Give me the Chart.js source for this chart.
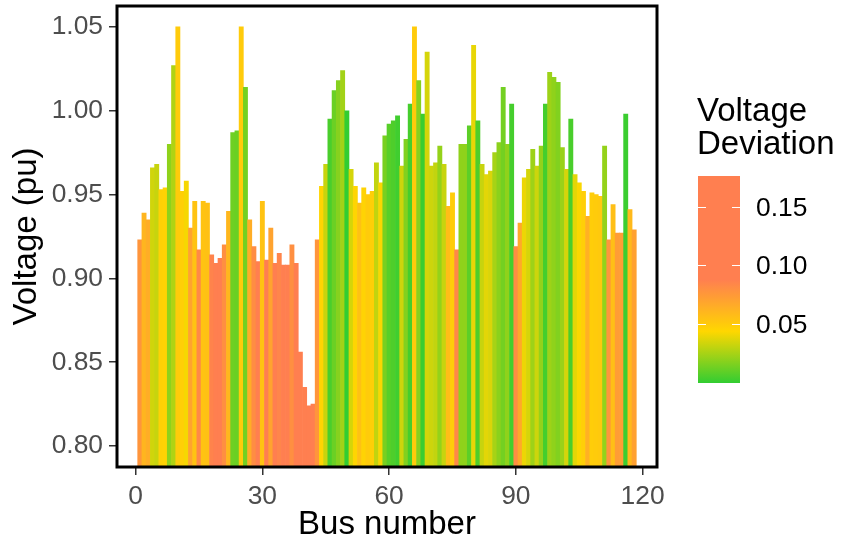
<!DOCTYPE html>
<html>
<head>
<meta charset="utf-8">
<script src="https://cdn.jsdelivr.net/npm/chart.js@4.4.1/dist/chart.umd.min.js"></script>
<style>
  html, body { margin: 0; padding: 0; background: #ffffff; }
  #wrap { width: 841px; height: 542px; }
</style>
</head>
<body>
<div id="wrap"><canvas id="chart" width="841" height="542"></canvas></div>
<script>
// Bus voltage magnitudes (pu) for buses 1..118
const voltage = [
  0.923, 0.939, 0.935, 0.966, 0.968, 0.953, 0.954, 0.980, 1.027, 1.050,
  0.952, 0.958, 0.930, 0.946, 0.917, 0.946, 0.945, 0.914, 0.909, 0.912,
  0.920, 0.940, 0.987, 0.988, 1.050, 1.014, 0.935, 0.919, 0.910, 0.946,
  0.911, 0.930, 0.909, 0.915, 0.908, 0.908, 0.920, 0.909, 0.856, 0.835,
  0.824, 0.825, 0.923, 0.955, 0.968, 0.995, 1.012, 1.018, 1.024, 1.000,
  0.965, 0.955, 0.945, 0.954, 0.950, 0.952, 0.969, 0.957, 0.985, 0.992,
  0.994, 0.997, 0.967, 0.983, 1.004, 1.050, 1.018, 0.998, 1.035, 0.967,
  0.969, 0.979, 0.968, 0.943, 0.951, 0.917, 0.980, 0.980, 0.991, 1.039,
  0.994, 0.968, 0.962, 0.964, 0.975, 0.981, 1.014, 0.980, 1.004, 0.919,
  0.933, 0.960, 0.965, 0.977, 0.967, 0.979, 1.004, 1.023, 1.020, 1.017,
  0.978, 0.965, 0.995, 0.962, 0.957, 0.952, 0.937, 0.951, 0.950, 0.949,
  0.979, 0.923, 0.944, 0.927, 0.927, 0.998, 0.941, 0.929
];
const busNumbers = voltage.map((_, i) => i + 1);
const deviation = voltage.map(v => Math.abs(1 - v));

const xTickValues = [0, 30, 60, 90, 120];
const yTickValues = [0.80, 0.85, 0.90, 0.95, 1.00, 1.05];
const legendTickValues = [0.05, 0.10, 0.15];

const FONT = '"Liberation Sans", Arial, Helvetica, sans-serif';

// green -> gold -> coral colour ramp for the deviation
const rampStops = [
  { d: 0.000, c: [50, 205, 50] },
  { d: 0.044, c: [255, 215, 0] },
  { d: 0.088, c: [255, 127, 80] }
];
function devColor(d) {
  if (d <= rampStops[0].d) return `rgb(${rampStops[0].c.join(',')})`;
  for (let i = 1; i < rampStops.length; i++) {
    const a = rampStops[i - 1], b = rampStops[i];
    if (d <= b.d) {
      const t = (d - a.d) / (b.d - a.d);
      const c = a.c.map((v, k) => Math.round(v + (b.c[k] - v) * t));
      return `rgb(${c.join(',')})`;
    }
  }
  return `rgb(${rampStops[rampStops.length - 1].c.join(',')})`;
}

const points = busNumbers.map((b, i) => ({ x: b, y: voltage[i] }));
const barColors = deviation.map(devColor);

function noScalePadding(s) {
  s.paddingTop = 0; s.paddingBottom = 0; s.paddingLeft = 0; s.paddingRight = 0;
}

// panel border, axis titles and colourbar legend
const decorations = {
  id: 'decorations',
  afterDatasetsDraw(chart) {
    const { ctx, chartArea: a } = chart;
    ctx.save();
    ctx.strokeStyle = '#000000';
    ctx.lineWidth = 3;
    ctx.strokeRect(a.left, a.top, a.right - a.left, a.bottom - a.top);
    ctx.restore();
  },
  afterDraw(chart) {
    const { ctx, chartArea: a } = chart;
    ctx.save();
    ctx.fillStyle = '#000000';
    ctx.font = `33px ${FONT}`;
    ctx.textAlign = 'center';
    ctx.textBaseline = 'alphabetic';
    ctx.fillText('Bus number', (a.left + a.right) / 2, 534);

    ctx.save();
    ctx.translate(36, (a.top + a.bottom) / 2);
    ctx.rotate(-Math.PI / 2);
    ctx.fillText('Voltage (pu)', 0, 0);
    ctx.restore();

    // legend title
    ctx.textAlign = 'left';
    ctx.fillText('Voltage', 697, 121);
    ctx.fillText('Deviation', 697, 154);

    // colour bar
    const bx = 698, bw = 42, top = 176, bottom = 383;
    const dMin = Math.min(...deviation), dMax = Math.max(...deviation);
    const yOf = d => bottom - (d - dMin) / (dMax - dMin) * (bottom - top);
    const grad = ctx.createLinearGradient(0, bottom, 0, top);
    for (let k = 0; k <= 40; k++) {
      const d = dMin + (dMax - dMin) * k / 40;
      grad.addColorStop(k / 40, devColor(d));
    }
    ctx.fillStyle = grad;
    ctx.fillRect(bx, top, bw, bottom - top);

    ctx.strokeStyle = '#ffffff';
    ctx.lineWidth = 1.2;
    ctx.font = `26.4px ${FONT}`;
    ctx.textBaseline = 'middle';
    ctx.fillStyle = '#000000';
    legendTickValues.forEach(v => {
      const y = Math.round(yOf(v)) + 0.5;
      ctx.beginPath();
      ctx.moveTo(bx, y); ctx.lineTo(bx + 8, y);
      ctx.moveTo(bx + bw - 8, y); ctx.lineTo(bx + bw, y);
      ctx.stroke();
      ctx.fillText(v.toFixed(2), 756, y + 1);
    });
    ctx.restore();
  }
};

new Chart(document.getElementById('chart'), {
  type: 'bar',
  data: {
    datasets: [{
      data: points,
      backgroundColor: barColors,
      borderWidth: 0,
      barPercentage: 1.0,
      categoryPercentage: 1.0
    }]
  },
  options: {
    responsive: false,
    animation: false,
    devicePixelRatio: 1,
    layout: { padding: { left: 0, right: 184, top: 6, bottom: 0 } },
    plugins: { legend: { display: false }, tooltip: { enabled: false } },
    scales: {
      x: {
        type: 'linear',
        min: -4.4,
        max: 123.4,
        offset: false,
        afterBuildTicks: s => { s.ticks = xTickValues.map(v => ({ value: v })); },
        afterFit: s => { s.height = 75; noScalePadding(s); },
        border: { display: false },
        grid: { display: true, offset: false, drawOnChartArea: false, drawTicks: true, tickLength: 8, color: '#333333', lineWidth: 1.5 },
        ticks: { color: '#4D4D4D', font: { family: FONT, size: 26.4 }, padding: 6, maxRotation: 0, autoSkip: false, callback: v => String(v) }
      },
      y: {
        min: 0.7875,
        max: 1.0625,
        afterBuildTicks: s => { s.ticks = yTickValues.map(v => ({ value: v })); },
        afterFit: s => { s.width = 117; noScalePadding(s); },
        border: { display: false },
        grid: { display: true, drawOnChartArea: false, drawTicks: true, tickLength: 8, color: '#333333', lineWidth: 1.5 },
        ticks: { color: '#4D4D4D', font: { family: FONT, size: 26.4 }, padding: 6, autoSkip: false, callback: v => Number(v).toFixed(2) }
      }
    }
  },
  plugins: [decorations]
});
</script>
</body>
</html>
